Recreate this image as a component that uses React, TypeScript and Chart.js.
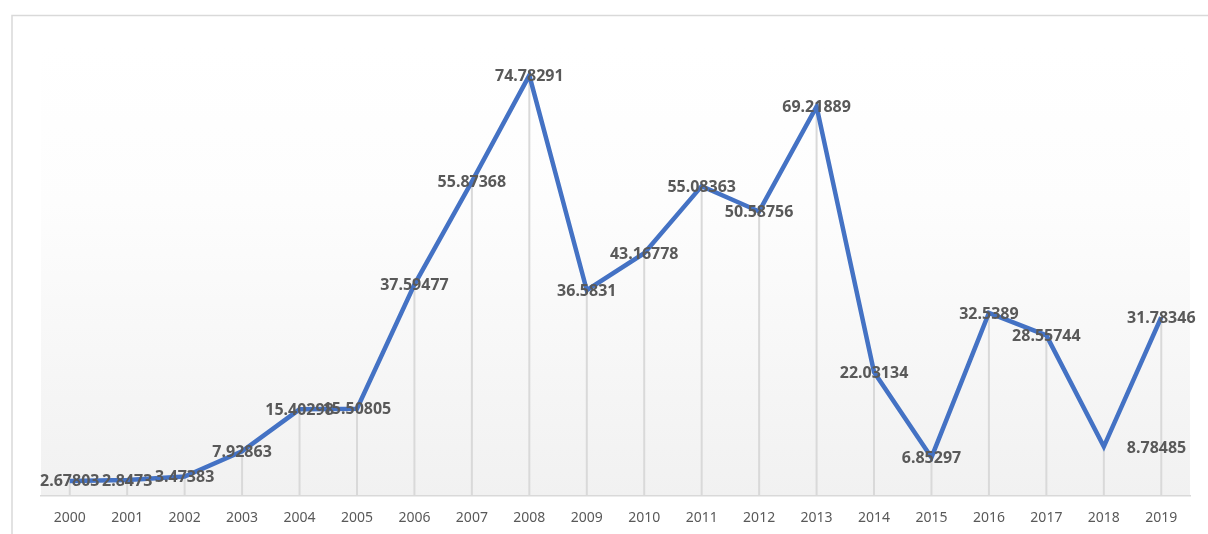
import React, { useEffect, useRef } from "react";
import { Chart, registerables } from "chart.js";

Chart.register(...registerables);

const years = ["2000","2001","2002","2003","2004","2005","2006","2007","2008","2009","2010","2011","2012","2013","2014","2015","2016","2017","2018","2019"];
const values = [2.67803, 2.8473, 3.47383, 7.92863, 15.40298, 15.50805, 37.59477, 55.87368, 74.78291, 36.5831, 43.16778, 55.08363, 50.58756, 69.21889, 22.03134, 6.85297, 32.5389, 28.55744, 8.78485, 31.78346];
const labelText = ["2.67803","2.8473","3.47383","7.92863","15.40298","15.50805","37.59477","55.87368","74.78291","36.5831","43.16778","55.08363","50.58756","69.21889","22.03134","6.85297","32.5389","28.55744","8.78485","31.78346"];
const rightLabelYears = ["2018"];
const yMin = 0;
const yMax = 80;

const W = 1208;
const H = 534;

const backgroundPlugin = {
  id: "bgFrame",
  beforeDraw(chart: any) {
    const { ctx, chartArea } = chart;
    ctx.save();
    ctx.fillStyle = "#ffffff";
    ctx.fillRect(0, 0, W, H);
    const g = ctx.createLinearGradient(0, chartArea.top, 0, chartArea.bottom);
    g.addColorStop(0, "#ffffff");
    g.addColorStop(0.35, "#fdfdfd");
    g.addColorStop(1, "#f1f1f1");
    ctx.fillStyle = g;
    ctx.fillRect(chartArea.left, chartArea.top, chartArea.right - chartArea.left, chartArea.bottom - chartArea.top);
    ctx.strokeStyle = "#d9d9d9";
    ctx.lineWidth = 1.5;
    ctx.beginPath();
    ctx.moveTo(12, H);
    ctx.lineTo(12, 15.5);
    ctx.lineTo(W, 15.5);
    ctx.stroke();
    ctx.restore();
  },
  beforeDatasetsDraw(chart: any) {
    const { ctx, chartArea } = chart;
    const meta = chart.getDatasetMeta(0);
    ctx.save();
    ctx.strokeStyle = "#d9d9d9";
    ctx.lineWidth = 2;
    meta.data.forEach((pt: any) => {
      ctx.beginPath();
      ctx.moveTo(pt.x, pt.y);
      ctx.lineTo(pt.x, chartArea.bottom);
      ctx.stroke();
    });
    ctx.restore();
  },
  afterDatasetsDraw(chart: any) {
    const { ctx } = chart;
    const meta = chart.getDatasetMeta(0);
    ctx.save();
    ctx.font = "bold 16px 'Noto Sans'";
    ctx.fillStyle = "#595959";
    ctx.textBaseline = "middle";
    meta.data.forEach((pt: any, i: number) => {
      const txt = labelText[i];
      if (rightLabelYears.includes(years[i])) {
        ctx.textAlign = "left";
        ctx.fillText(txt, pt.x + 23, pt.y + 2);
      } else {
        ctx.textAlign = "center";
        ctx.fillText(txt, pt.x, pt.y + 1);
      }
    });
    ctx.restore();
  },
};

export default function App() {
  const ref = useRef<HTMLCanvasElement>(null);
  useEffect(() => {
    if (!ref.current) return;
    const chart = new Chart(ref.current, {
      type: "line",
      data: {
        labels: years,
        datasets: [
          {
            data: values,
            borderColor: "#4472C4",
            borderWidth: 4.5,
            pointRadius: 0,
            tension: 0,
            fill: false,
          },
        ],
      },
      options: {
        animation: false,
        responsive: false,
        maintainAspectRatio: false,
        layout: { padding: { left: 41, right: 18, top: 46, bottom: 0 } },
        plugins: { legend: { display: false }, tooltip: { enabled: false } },
        scales: {
          x: {
            offset: true,
            grid: { display: false, drawTicks: false },
            border: { display: true, color: "#d9d9d9", width: 1.5 },
            ticks: { color: "#595959", font: { family: "'Noto Sans'", size: 14 }, padding: 14, maxRotation: 0, autoSkip: false },
            afterFit: (scale: any) => { scale.height = 38; },
          },
          y: { display: false, min: yMin, max: yMax },
        },
      },
      plugins: [backgroundPlugin],
    });
    return () => chart.destroy();
  }, []);
  return (
    <div style={{ position: "fixed", left: 0, top: 0, width: W, height: H, background: "#fff" }}>
      <canvas ref={ref} width={W} height={H} style={{ width: W, height: H, display: "block" }} />
    </div>
  );
}
